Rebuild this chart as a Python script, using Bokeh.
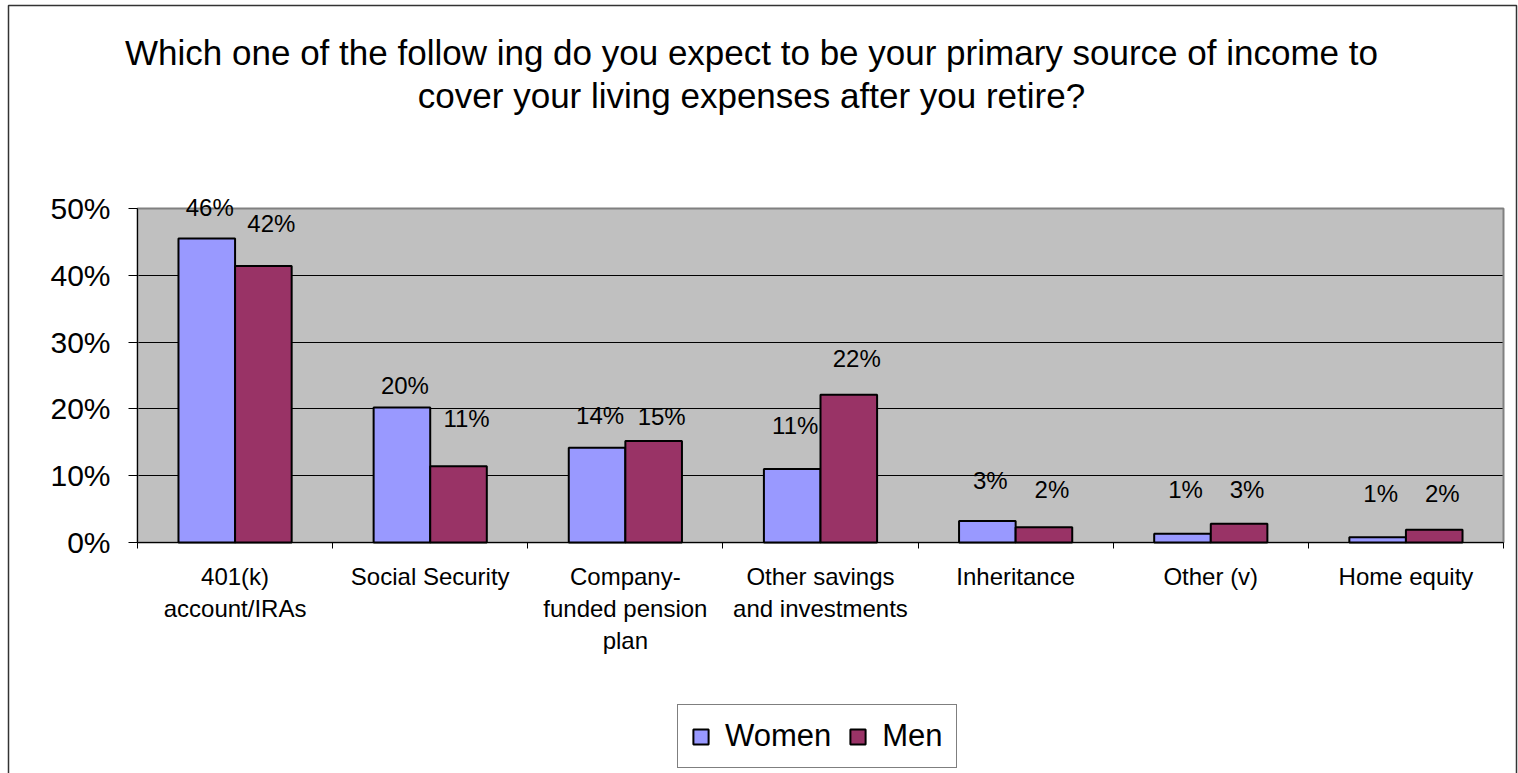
import numpy as np
from bokeh.plotting import figure
from bokeh.models import (Range1d, FixedTicker, PrintfTickFormatter, LabelSet, Label,
                          ColumnDataSource, Legend, LegendItem)
from bokeh.core.properties import value
from bokeh.embed import file_html
from bokeh.resources import INLINE

# ---------------- data ----------------
categories = ["401(k)\naccount/IRAs", "Social Security", "Company-\nfunded pension\nplan",
              "Other savings\nand investments", "Inheritance", "Other (v)", "Home equity"]
women = [45.5, 20.2, 14.2, 11.0, 3.2, 1.3, 0.8]
men = [41.4, 11.4, 15.2, 22.1, 2.3, 2.8, 1.9]
women_labels = ["46%", "20%", "14%", "11%", "3%", "1%", "1%"]
men_labels = ["42%", "11%", "15%", "22%", "2%", "3%", "2%"]
y_ticks = [0, 10, 20, 30, 40, 50]
series_names = ["Women", "Men"]
title_lines = ["Which one of the follow ing do you expect to be your primary source of income to",
               "cover your living expenses after you retire?"]

# label heights (data units) as placed in the original chart
women_label_y = [50.1, 23.5, 19.0, 17.5, 9.3, 7.9, 7.3]
men_label_y = [47.8, 18.6, 18.9, 27.5, 7.9, 7.9, 7.3]

# ---------------- layout (pixels of the page) ----------------
W, H = 1518, 773
PL, PR, PT, PB = 137, 1503, 208, 542      # plot area
NC = len(categories)
YMAX = 50
SX = (PR - PL) / NC
SY = (PB - PT) / YMAX
FONT = "Liberation Sans"


def xd(px):
    return (px - PL) / SX


def yd(py):
    return (PB - py) / SY


p = figure(width=W, height=H,
           x_range=Range1d(xd(0), xd(W)), y_range=Range1d(yd(H), yd(0)),
           output_backend="svg", toolbar_location=None,
           min_border_left=0, min_border_right=0, min_border_top=0, min_border_bottom=0)
p.background_fill_color = "white"
p.border_fill_color = "white"
p.outline_line_color = None

# outer chart border
p.quad(left=[xd(8)], right=[xd(1516)], top=[yd(5)], bottom=[yd(H + 20)],
       fill_color=None, line_color="#333333", line_width=1.5)

# plot area
bg = p.quad(left=[0], right=[NC], bottom=[0], top=[YMAX], fill_color="#C0C0C0",
            line_color=None)
bg.level = "image"

# horizontal gridlines
p.xgrid.visible = False
if "cross_bounds" in p.ygrid[0].properties():
    p.ygrid.ticker = FixedTicker(ticks=y_ticks)
    p.ygrid.bounds = (0, YMAX)
    p.ygrid.cross_bounds = (0, NC)
    p.ygrid.grid_line_color = "black"
    p.ygrid.grid_line_width = 1
else:
    p.ygrid.visible = False
    p.segment(x0=[0] * len(y_ticks), x1=[NC] * len(y_ticks), y0=y_ticks, y1=y_ticks,
              line_color="black", line_width=1)

p.quad(left=[0], right=[NC], bottom=[0], top=[YMAX], fill_color=None,
       line_color="#808080", line_width=2)

idx = np.arange(NC)
BW = 0.29
rw = p.vbar(x=idx + 0.355, top=women, width=BW, fill_color="#9999FF",
            line_color="black", line_width=2)
rm = p.vbar(x=idx + 0.645, top=men, width=BW, fill_color="#993366",
            line_color="black", line_width=2)

# y axis
p.yaxis.fixed_location = 0
p.yaxis.bounds = (0, YMAX)
p.yaxis.ticker = FixedTicker(ticks=y_ticks)
p.yaxis.formatter = PrintfTickFormatter(format="%d%%")
p.yaxis.major_label_text_font = FONT
p.yaxis.major_label_text_font_size = "30px"
p.yaxis.major_label_text_color = "black"
p.yaxis.major_tick_out = 9
p.yaxis.major_tick_in = 0
p.yaxis.minor_tick_line_color = None
p.yaxis.axis_line_color = "black"
p.yaxis.major_tick_line_color = "black"
p.yaxis.major_label_standoff = 18

# x axis: labels at category centres, tick marks at category boundaries
centers = [i + 0.5 for i in range(NC)]
p.xaxis.fixed_location = 0
p.xaxis.bounds = (0, NC)
p.xaxis.ticker = FixedTicker(ticks=centers, minor_ticks=list(range(NC + 1)))
p.xaxis.major_label_overrides = {c: cat for c, cat in zip(centers, categories)}
p.xaxis.major_tick_line_color = None
p.xaxis.major_tick_out = 0
p.xaxis.major_tick_in = 0
p.xaxis.minor_tick_out = 6
p.xaxis.minor_tick_in = 0
p.xaxis.minor_tick_line_color = "black"
p.xaxis.axis_line_color = "black"
p.xaxis.major_label_text_font = FONT
p.xaxis.major_label_text_font_size = "24px"
p.xaxis.major_label_text_color = "black"
p.xaxis.major_label_standoff = 14

# bar value labels
src_w = ColumnDataSource(dict(x=idx + 0.355, y=women_label_y, t=women_labels))
src_m = ColumnDataSource(dict(x=idx + 0.645, y=men_label_y, t=men_labels))
for src, dx in ((src_w, 3), (src_m, 8)):
    p.add_layout(LabelSet(x="x", y="y", text="t", source=src, text_align="center",
                          text_baseline="middle", text_font=value(FONT),
                          text_font_size="24px", text_color="black", x_offset=dx))

# title
for k, line in enumerate(title_lines):
    p.add_layout(Label(x=xd(751), y=yd(52 + 43 * k), text=line, text_align="center",
                       text_baseline="middle", text_font=FONT, text_font_size="35px",
                       text_color="black"))

# legend
legend = Legend(items=[LegendItem(label=series_names[0], renderers=[rw]),
                       LegendItem(label=series_names[1], renderers=[rm])],
                orientation="horizontal", location=(677, H - 768),
                border_line_color="black", border_line_width=1,
                background_fill_color="white", background_fill_alpha=1,
                label_text_font=FONT, label_text_font_size="31px",
                label_text_color="black",
                glyph_width=19, glyph_height=19, padding=13, spacing=17,
                label_standoff=15, margin=0)
p.add_layout(legend, "center")

open("out.html", "w").write(file_html(p, INLINE))
